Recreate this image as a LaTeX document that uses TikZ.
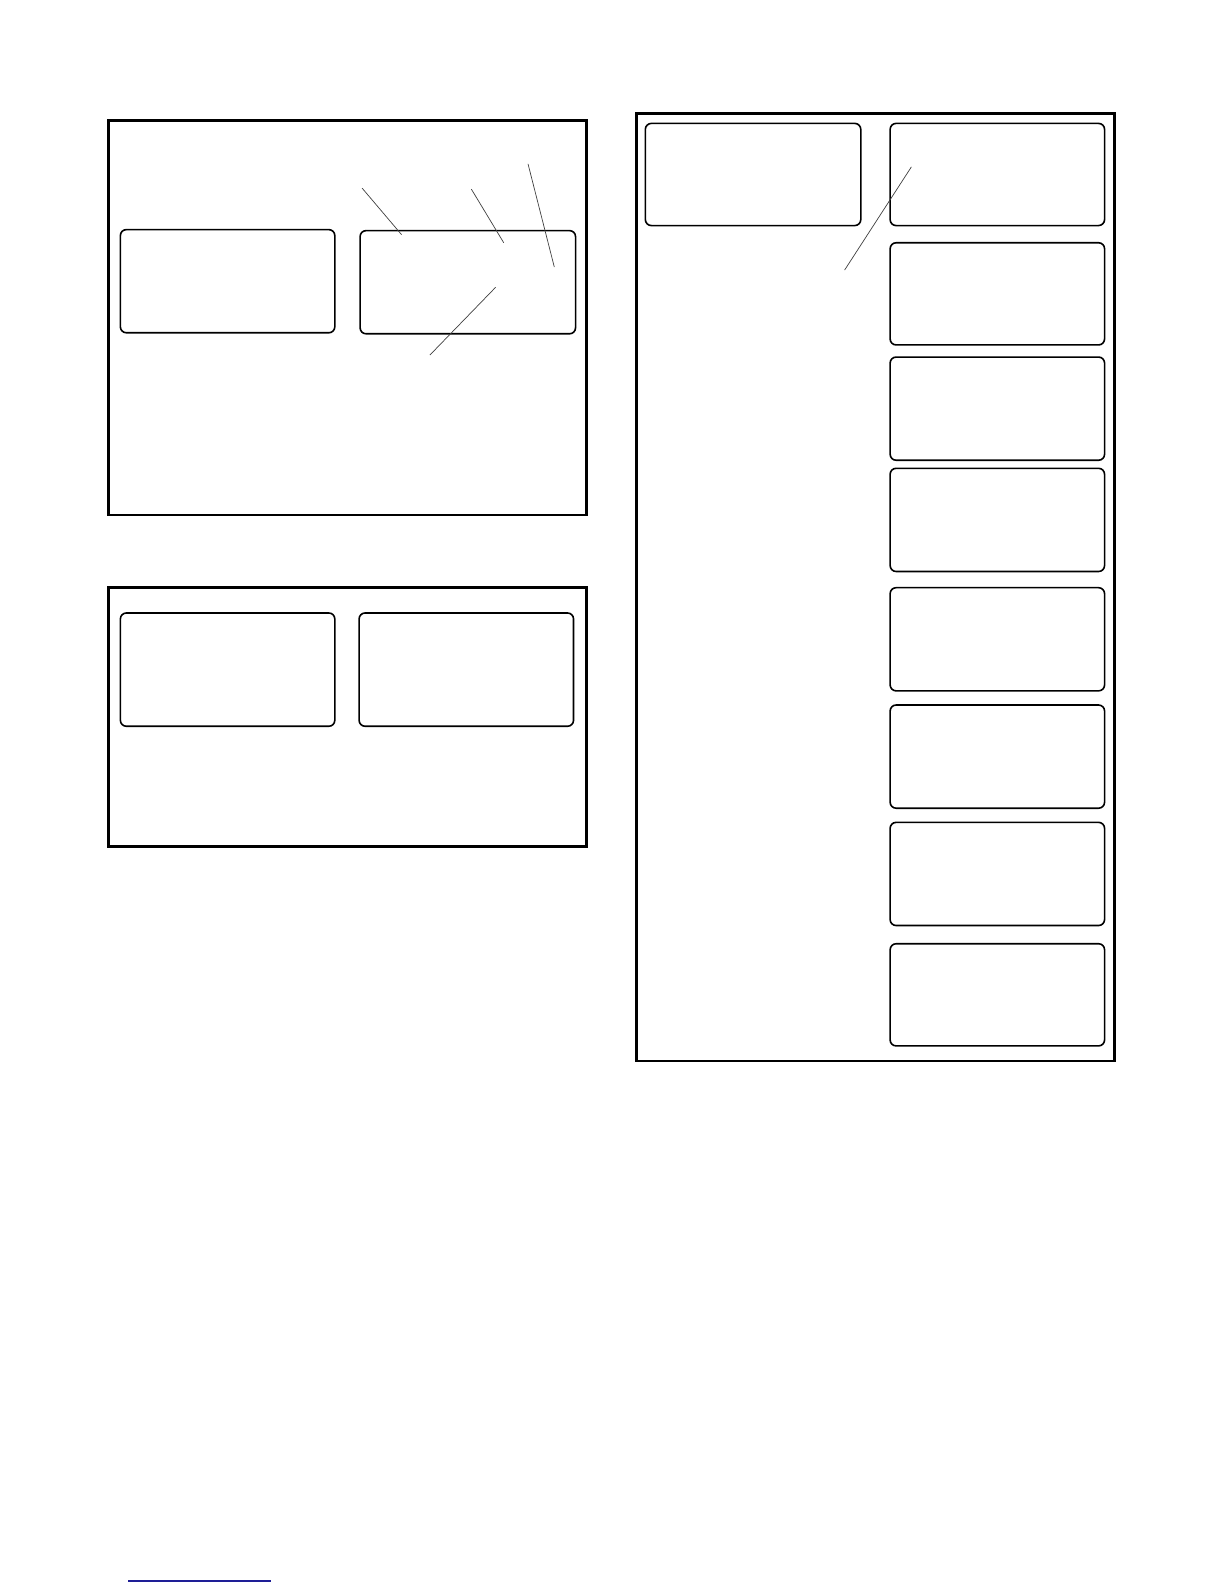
\documentclass[tikz,border=0pt]{standalone}
\usetikzlibrary{fit}
\begin{document}
\begin{tikzpicture}[x=1.0115pt,y=-1.0115pt,
  frame/.style={draw=black,line width=2.6pt,rectangle,inner sep=0pt},
  panel/.style={draw=black,line width=1.6pt,rectangle,rounded corners=6pt,inner sep=0pt},
  leader/.style={draw=black!75,line width=0.7pt},
  bluerule/.style={draw={rgb,255:red,30;green,30;blue,150},line width=1.4pt}]
\useasboundingbox[fill=white] (0pt,0pt) rectangle (1224pt,-1584pt);
% Frame A
\node[frame,fit={(107,119) (580,509)}] (fa) {};
\node[panel,fit={(119,227) (331,329)}] (a1) {};
\node[panel,fit={(356,228) (569,330)}] (a2) {};
\coordinate (l1s) at (358,186); \coordinate (l1e) at (397,232);
\coordinate (l2s) at (466,187); \coordinate (l2e) at (498,240);
\coordinate (l3s) at (522,162); \coordinate (l3e) at (548,264);
\coordinate (l4s) at (490,284); \coordinate (l4e) at (425,351);
\draw[leader] (l1s) -- (l1e);
\draw[leader] (l2s) -- (l2e);
\draw[leader] (l3s) -- (l3e);
\draw[leader] (l4s) -- (l4e);
% Frame B
\node[frame,fit={(107,581) (580,837)}] (fb) {};
\node[panel,fit={(119,606) (331,718)}] (b1) {};
\node[panel,fit={(355,606) (567,718)}] (b2) {};
% Frame C
\node[frame,fit={(629,112) (1102,1049)}] (fc) {};
\node[panel,fit={(638,122) (851,223)}] (c0) {};
\node[panel,fit={(880,122) (1092,223)}] (r1) {};
\node[panel,fit={(880,240) (1092,341)}] (r2) {};
\node[panel,fit={(880,353) (1092,455)}] (r3) {};
\node[panel,fit={(880,463) (1092,565)}] (r4) {};
\node[panel,fit={(880,581) (1092,683)}] (r5) {};
\node[panel,fit={(880,697) (1092,799)}] (r6) {};
\node[panel,fit={(880,813) (1092,915)}] (r7) {};
\node[panel,fit={(880,933) (1092,1034)}] (r8) {};
\coordinate (l5s) at (901,165); \coordinate (l5e) at (835,267);
\draw[leader] (l5s) -- (l5e);
% blue rule
\coordinate (bs) at (128pt,-1581pt); \coordinate (be) at (271pt,-1581pt);
\draw[bluerule] (bs) -- (be);
\end{tikzpicture}
\end{document}
